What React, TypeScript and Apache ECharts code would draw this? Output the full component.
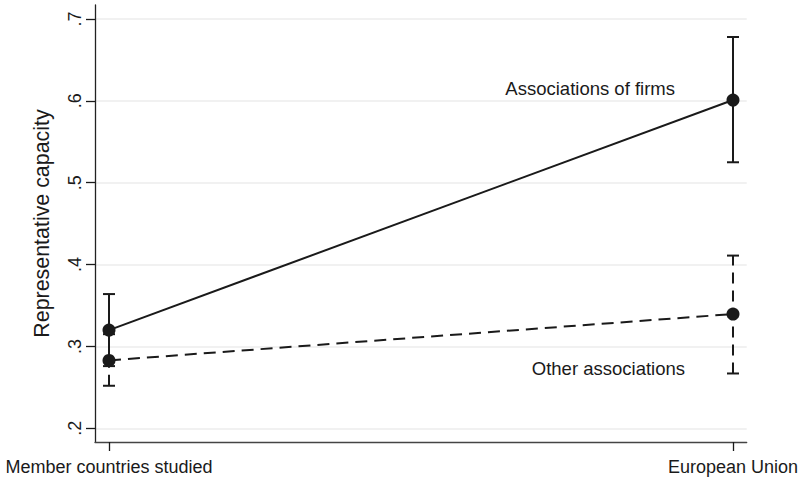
import React, { useEffect, useRef } from "react";
import * as echarts from "echarts";

const categories = ["Member countries studied", "European Union"];
const categoryPos = [0, 1];

const firmsMean = [0.32, 0.601];
const firmsLow = [0.276, 0.525];
const firmsHigh = [0.364, 0.678];

const otherMean = [0.283, 0.3396];
const otherLow = [0.252, 0.267];
const otherHigh = [0.315, 0.411];

const yTicks = [0.2, 0.3, 0.4, 0.5, 0.6, 0.7];
const yTickLabels = [".2", ".3", ".4", ".5", ".6", ".7"];

const seriesNames = ["Associations of firms", "Other associations"];

const FONT = "'Liberation Sans', Arial, Helvetica, sans-serif";
const INK = "#1a1a1a";

function errorBarSeries(low: number[], high: number[], dashed: boolean) {
  const data = categoryPos.map((x, i) => [x, low[i], high[i]]);
  return {
    type: "custom",
    silent: true,
    z: 2,
    data,
    renderItem: (params: any, api: any) => {
      const x = api.value(0);
      const lo = api.coord([x, api.value(1)]);
      const hi = api.coord([x, api.value(2)]);
      const cap = 6;
      const style = {
        stroke: INK,
        lineWidth: 2,
        lineDash: dashed ? [11, 7] : null,
      };
      return {
        type: "group",
        children: [
          { type: "line", shape: { x1: lo[0], y1: lo[1], x2: hi[0], y2: hi[1] }, style },
          { type: "line", shape: { x1: hi[0] - cap, y1: hi[1], x2: hi[0] + cap, y2: hi[1] }, style: { stroke: INK, lineWidth: 2 } },
          { type: "line", shape: { x1: lo[0] - cap, y1: lo[1], x2: lo[0] + cap, y2: lo[1] }, style: { stroke: INK, lineWidth: 2 } },
        ],
      };
    },
  };
}

export default function App() {
  const ref = useRef<HTMLDivElement>(null);

  useEffect(() => {
    document.body.style.margin = "0";
    if (!ref.current) return;
    const chart = echarts.init(ref.current, undefined, { renderer: "svg" });
    chart.setOption({
      animation: false,
      backgroundColor: "#ffffff",
      textStyle: { fontFamily: FONT },
      grid: { left: 95, right: 59.3, top: 5, bottom: 38, containLabel: false },
      xAxis: {
        type: "value",
        min: -0.02244,
        max: 1.02196,
        axisLine: { show: true, onZero: false, lineStyle: { color: "#444", width: 1.3 } },
        axisTick: { show: true, length: 9, customValues: categoryPos, lineStyle: { color: INK, width: 1.3 } },
        axisLabel: {
          customValues: categoryPos,
          formatter: (v: number) => categories[Math.round(v)],
          fontSize: 18,
          color: INK,
          fontFamily: FONT,
          margin: 16,
        },
        splitLine: { show: false },
      },
      yAxis: {
        type: "value",
        min: 0.1833,
        max: 0.7171,
        name: "Representative capacity",
        nameLocation: "middle",
        nameRotate: 90,
        nameGap: 43,
        nameTextStyle: { fontSize: 21.4, color: INK, fontFamily: FONT },
        axisLine: { show: true, onZero: false, lineStyle: { color: "#222", width: 1.3 } },
        axisTick: { show: true, length: 9, customValues: yTicks, lineStyle: { color: INK, width: 1.3 } },
        axisLabel: {
          customValues: yTicks,
          rotate: 90,
          formatter: (v: number) => {
            const i = yTicks.findIndex((t) => Math.abs(t - v) < 1e-6);
            return i >= 0 ? yTickLabels[i] : "";
          },
          fontSize: 18,
          color: INK,
          fontFamily: FONT,
          margin: 11,
        },
        splitLine: { show: true, lineStyle: { color: "#ececec", width: 1.5 } },
      },
      graphic: [
        {
          type: "text",
          style: {
            x: 675,
            y: 88.5,
            text: seriesNames[0],
            align: "right",
            verticalAlign: "middle",
            fontSize: 18.5,
            fontFamily: FONT,
            fill: INK,
          },
        },
        {
          type: "text",
          style: {
            x: 685,
            y: 368.5,
            text: seriesNames[1],
            align: "right",
            verticalAlign: "middle",
            fontSize: 18.5,
            fontFamily: FONT,
            fill: INK,
          },
        },
      ],
      series: [
        errorBarSeries(firmsLow, firmsHigh, false),
        errorBarSeries(otherLow, otherHigh, true),
        {
          name: seriesNames[0],
          type: "line",
          z: 3,
          data: categoryPos.map((x, i) => [x, firmsMean[i]]),
          symbol: "circle",
          symbolSize: 13,
          showSymbol: true,
          itemStyle: { color: INK },
          lineStyle: { color: INK, width: 2 },
        },
        {
          name: seriesNames[1],
          type: "line",
          z: 3,
          data: categoryPos.map((x, i) => [x, otherMean[i]]),
          symbol: "circle",
          symbolSize: 13,
          showSymbol: true,
          itemStyle: { color: INK },
          lineStyle: { color: INK, width: 2, type: [12, 7] },
        },
      ],
    });
    return () => chart.dispose();
  }, []);

  return <div ref={ref} style={{ width: 806, height: 480 }} />;
}
